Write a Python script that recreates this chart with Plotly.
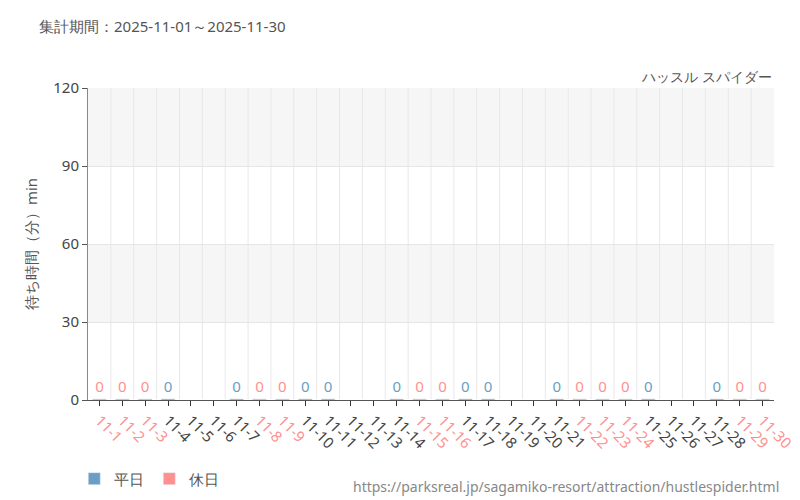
import plotly.graph_objects as go

days = [f"11-{i}" for i in range(1, 31)]
holidays = [1, 2, 3, 8, 9, 15, 16, 22, 23, 24, 29, 30]
nodata = [5, 6, 12, 13, 19, 20, 26, 27]
waits = [None if i in nodata else 0 for i in range(1, 31)]

BLUE = "#6a9ec5"; RED = "#ff9090"
fig = go.Figure()
for name, col, hol in [("平日", BLUE, False), ("休日", RED, True)]:
    xs, ys = [], []
    for i, d in enumerate(days, 1):
        if (i in holidays) == hol and waits[i-1] is not None:
            xs.append(d); ys.append(waits[i-1])
    fig.add_bar(x=xs, y=[y + 0.4 for y in ys], name=name, marker_color=col,
                text=[str(y) for y in ys], textposition="outside",
                textfont=dict(color=col, size=15, family="Noto Sans"),
                cliponaxis=False, width=0.6)

ticktext = [f"<span style='color:{RED if i in holidays else '#444'}'>{d}</span>" for i, d in enumerate(days, 1)]
shapes = [dict(type="rect", xref="paper", yref="y", x0=0, x1=1, y0=a, y1=a+30,
               fillcolor="#f6f6f6", line_width=0, layer="below") for a in (30, 90)]
shapes += [dict(type="line", xref="x", yref="paper", x0=i - 0.5, x1=i - 0.5, y0=0, y1=1,
                line=dict(color="#e8e8e8", width=1), layer="below") for i in range(1, 30)]
fig.update_layout(
    width=800, height=500, plot_bgcolor="white", paper_bgcolor="white",
    margin=dict(l=80, r=30, t=80, b=100), barmode="overlay",
    font=dict(family="Noto Sans", color="#555"), shapes=shapes,
    xaxis=dict(type="category", categoryorder="array", categoryarray=days, tickmode="array",
               tickvals=days, ticktext=ticktext, tickangle=45, ticks="outside",
               tickcolor="#333", linecolor="#555", showgrid=False,
               tickfont=dict(size=15), range=[-0.5, 29.5]),
    yaxis=dict(range=[0, 120], tickvals=[0, 30, 60, 90, 120], gridcolor="#e5e5e5",
               ticks="outside", tickcolor="#555", linecolor="#888", showline=True,
               tickfont=dict(size=15, color="#444"),
               title=dict(text="待ち時間（分）min", font=dict(size=15), standoff=12)),
    legend=dict(orientation="h", x=-0.02, y=-0.2, yanchor="top", font=dict(size=15)),
    annotations=[
        dict(text="集計期間：2025-11-01～2025-11-30", xref="paper", yref="paper", x=-0.075, y=1.2,
             xanchor="left", yanchor="middle", showarrow=False, font=dict(size=15, color="#555")),
        dict(text="ハッスル スパイダー", xref="paper", yref="paper", x=1, y=1.0,
             xanchor="right", yanchor="bottom", showarrow=False, font=dict(size=14)),
        dict(text="https://parksreal.jp/sagamiko-resort/attraction/hustlespider.html", xref="paper", yref="paper",
             x=1.01, y=-0.24, xanchor="right", yanchor="top", showarrow=False, font=dict(size=14, color="#888")),
    ])
fig.write_html("out.html")
